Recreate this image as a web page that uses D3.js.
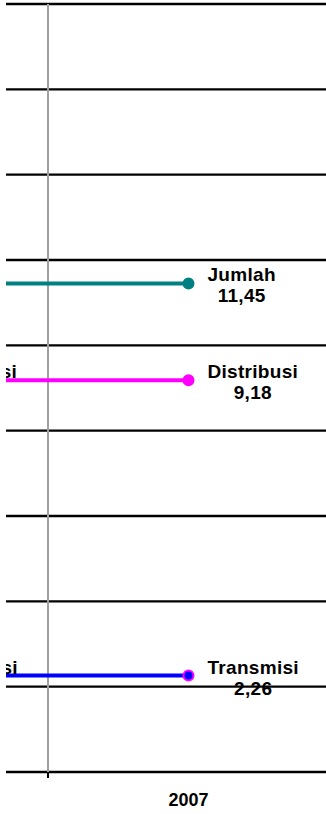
<!DOCTYPE html>
<html>
<head>
<meta charset="utf-8">
<script src="https://cdn.jsdelivr.net/npm/d3@7"></script>
<style>
  body { margin: 0; background: #fff; }
  text { font-family: "Liberation Sans", Arial, sans-serif; font-weight: bold; fill: #000; }
</style>
</head>
<body>
<svg id="chart"></svg>
<script>
const years = ["2006", "2007"];
const seriesNames = ["Jumlah", "Distribusi", "Transmisi"];
const seriesValues = [
  [11.45, 11.45],
  [9.18, 9.18],
  [2.26, 2.26]
];
const valueLabels = ["11,45", "9,18", "2,26"];
const yTicks = [0, 2, 4, 6, 8, 10, 12, 14, 16, 18];

const lineColors = ["#008080", "#ff00ff", "#0000ff"];
const markerStroke = ["#008080", "#ff00ff", "#ff00ff"];

const size = { width: 326, height: 814 };
const plot = { left: 6, right: 326, top: 4, bottom: 772 };

const svg = d3.select("#chart")
  .attr("width", size.width)
  .attr("height", size.height);

svg.append("clipPath")
  .attr("id", "clip")
  .append("rect")
  .attr("x", plot.left)
  .attr("y", 0)
  .attr("width", plot.right - plot.left)
  .attr("height", size.height);

const x = d3.scaleBand()
  .domain(years)
  .range([-233, 329]);

const cx = d => x(d) + x.bandwidth() / 2;

const y = d3.scaleLinear()
  .domain([0, 18])
  .range([plot.bottom, plot.top]);

const g = svg.append("g").attr("clip-path", "url(#clip)");

// horizontal gridlines
g.selectAll("line.grid")
  .data(yTicks)
  .join("line")
  .attr("class", "grid")
  .attr("x1", plot.left)
  .attr("x2", plot.right)
  .attr("y1", d => y(d))
  .attr("y2", d => y(d))
  .attr("stroke", "#000")
  .attr("stroke-width", 2.4);

// category separator
g.append("line")
  .attr("x1", x("2007"))
  .attr("x2", x("2007"))
  .attr("y1", plot.top)
  .attr("y2", plot.bottom)
  .attr("stroke", "#a0a0a0")
  .attr("stroke-width", 2);

// x axis
const xAxis = d3.axisBottom(x).tickSize(0).tickPadding(21);
const ax = g.append("g")
  .attr("transform", `translate(0,${plot.bottom})`)
  .call(xAxis);
ax.select(".domain").remove();
ax.selectAll("text")
  .style("font-size", "18px")
  .style("font-family", "'Liberation Sans', Arial, sans-serif")
  .style("font-weight", "bold")
  .attr("fill", "#000");

g.selectAll("line.tick-mark")
  .data(years.slice(1))
  .join("line")
  .attr("class", "tick-mark")
  .attr("x1", d => x(d))
  .attr("x2", d => x(d))
  .attr("y1", plot.bottom)
  .attr("y2", plot.bottom + 6)
  .attr("stroke", "#000")
  .attr("stroke-width", 2);

const line = d3.line()
  .x((v, i) => cx(years[i]))
  .y(v => y(v));

seriesNames.forEach((name, s) => {
  const vals = seriesValues[s];

  g.append("path")
    .attr("d", line(vals))
    .attr("fill", "none")
    .attr("stroke", lineColors[s])
    .attr("stroke-width", 4);

  vals.forEach((v, i) => {
    const px = cx(years[i]);
    const py = y(v);

    g.append("circle")
      .attr("cx", px)
      .attr("cy", py)
      .attr("r", 5)
      .attr("fill", lineColors[s])
      .attr("stroke", markerStroke[s])
      .attr("stroke-width", 2);

    const nameText = g.append("text")
      .attr("x", px + 19)
      .attr("y", py - 2)
      .style("font-size", "19px")
      .style("letter-spacing", "0.3px")
      .text(name);
    const w = nameText.node().getComputedTextLength();

    g.append("text")
      .attr("x", px + 19 + w / 2)
      .attr("y", py + 19)
      .attr("text-anchor", "middle")
      .style("font-size", "19px")
      .style("letter-spacing", "0.3px")
      .text(valueLabels[s]);
  });
});
</script>
</body>
</html>
